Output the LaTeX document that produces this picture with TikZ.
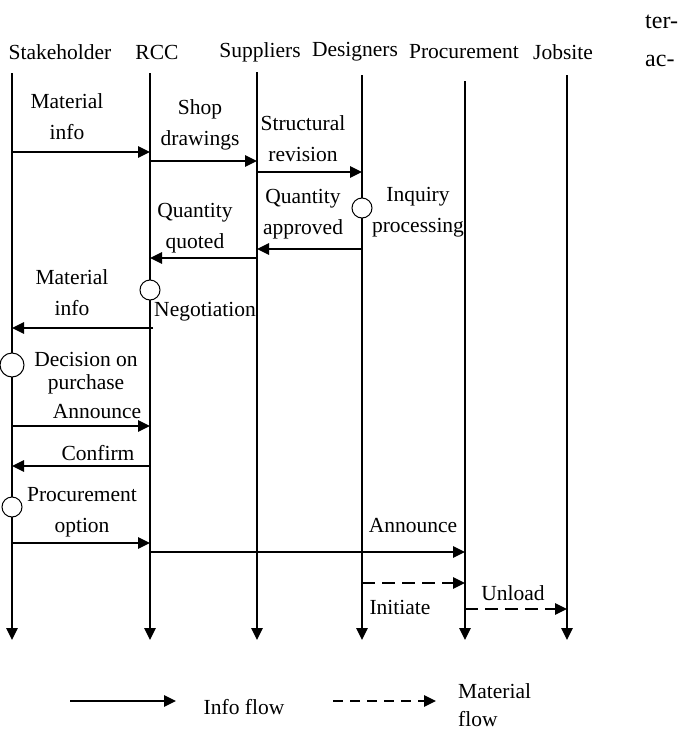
\documentclass[tikz,border=0pt]{standalone}
\usepackage{fontspec}
\setmainfont{Liberation Serif}
\usetikzlibrary{arrows.meta}
\tikzset{
  lbl/.style={align=center, inner sep=0pt, font=\fontsize{21.5}{31}\selectfont},
  info/.style={-{Triangle[length=12pt,width=11.5pt]}, line width=1.3pt},
  matflow/.style={info, dash pattern=on 13pt off 7pt},
  actv/.style={circle, draw, fill=white, line width=1pt, minimum size=20pt, inner sep=0pt},
}
\begin{document}
\begin{tikzpicture}[x=1pt, y=-1pt]
  \useasboundingbox (0,0) rectangle (687,734);
  % participants
  \node[lbl] (stk-lbl) at (60,52) {Stakeholder};
  \node[lbl] (rcc-lbl) at (157,52) {RCC};
  \node[lbl] (sup-lbl) at (260,52) {Suppliers};
  \node[lbl] (des-lbl) at (355,52) {Designers};
  \node[lbl] (pro-lbl) at (464,52) {Procurement};
  \node[lbl] (job-lbl) at (563,52) {Jobsite};
  \node[inner sep=0pt, align=left, anchor=west, font=\fontsize{24}{38}\selectfont] (cut) at (645,41) {ter-\\ac-};
  % lifelines
  \coordinate (stk) at (12,73);   \coordinate (stk-end) at (12,640);
  \coordinate (rcc) at (150,73);  \coordinate (rcc-end) at (150,640);
  \coordinate (sup) at (257,72);  \coordinate (sup-end) at (257,640);
  \coordinate (des) at (362,75);  \coordinate (des-end) at (362,640);
  \coordinate (pro) at (465,81);  \coordinate (pro-end) at (465,640);
  \coordinate (job) at (567,75);  \coordinate (job-end) at (567,640);
  \foreach \p in {stk,rcc,sup,des,pro,job}
    \draw[info] (\p) -- (\p-end);
  % messages
  \draw[info] (stk |- 0,152) -- (rcc |- 0,152);
  \node[lbl] (m1) at (67,117) {Material\\info};
  \draw[info] (rcc |- 0,161) -- (sup |- 0,161);
  \node[lbl] (m2) at (200,125) {Shop\\drawings};
  \draw[info] (sup |- 0,172) -- (des |- 0,172);
  \node[lbl] (m3) at (303,139) {Structural\\revision};
  \draw[info] (des |- 0,249) -- (sup |- 0,249);
  \node[lbl] (m4) at (303,214) {Quantity\\approved};
  \draw[info] (sup |- 0,258) -- (rcc |- 0,258);
  \node[lbl] (m5) at (195,228) {Quantity\\quoted};
  \draw[info] (153,328) -- (stk |- 0,328);
  \node[lbl] (m6) at (72,293) {Material\\info};
  \draw[info] (stk |- 0,426) -- (rcc |- 0,426);
  \node[lbl] (m7) at (97,412) {Announce};
  \draw[info] (rcc |- 0,466) -- (stk |- 0,466);
  \node[lbl] (m8) at (98,453) {Confirm};
  \draw[info] (stk |- 0,543) -- (rcc |- 0,543);
  \node[lbl] (m9) at (82,512) {Procurement\\option};
  \draw[info] (rcc |- 0,552) -- (pro |- 0,552);
  \node[lbl] (m10) at (413,526) {Announce};
  \draw[matflow] (des |- 0,583) -- (pro |- 0,583);
  \node[lbl] (m11) at (400,607) {Initiate};
  \draw[matflow] (pro |- 0,609) -- (job |- 0,609);
  \node[lbl] (m12) at (513,593) {Unload};
  % activities
  \node[actv] (inq) at (des |- 0,208) {};
  \node[lbl] (inq-lbl) at (418,212) {Inquiry\\processing};
  \node[actv] (neg) at (rcc |- 0,290) {};
  \node[lbl] (neg-lbl) at (205,312) {Negotiation};
  \node[actv, minimum size=24pt] (dec) at (stk |- 0,365) {};
  \node[lbl, font=\fontsize{21.5}{23}\selectfont] (dec-lbl) at (86,373) {Decision on\\purchase};
  \node[actv] (opt) at (stk |- 0,507) {};
  % legend
  \coordinate (lg1) at (70,701);  \coordinate (lg2) at (176,701);
  \draw[info] (lg1) -- (lg2);
  \node[lbl] (lg-info) at (244,707) {Info flow};
  \coordinate (lg3) at (333,701);  \coordinate (lg4) at (436,701);
  \draw[info, dash pattern=on 10pt off 7pt] (lg3) -- (lg4);
  \node[lbl, align=left, anchor=west, font=\fontsize{21.5}{28}\selectfont] (lg-mat) at (458,705) {Material\\flow};
\end{tikzpicture}
\end{document}
